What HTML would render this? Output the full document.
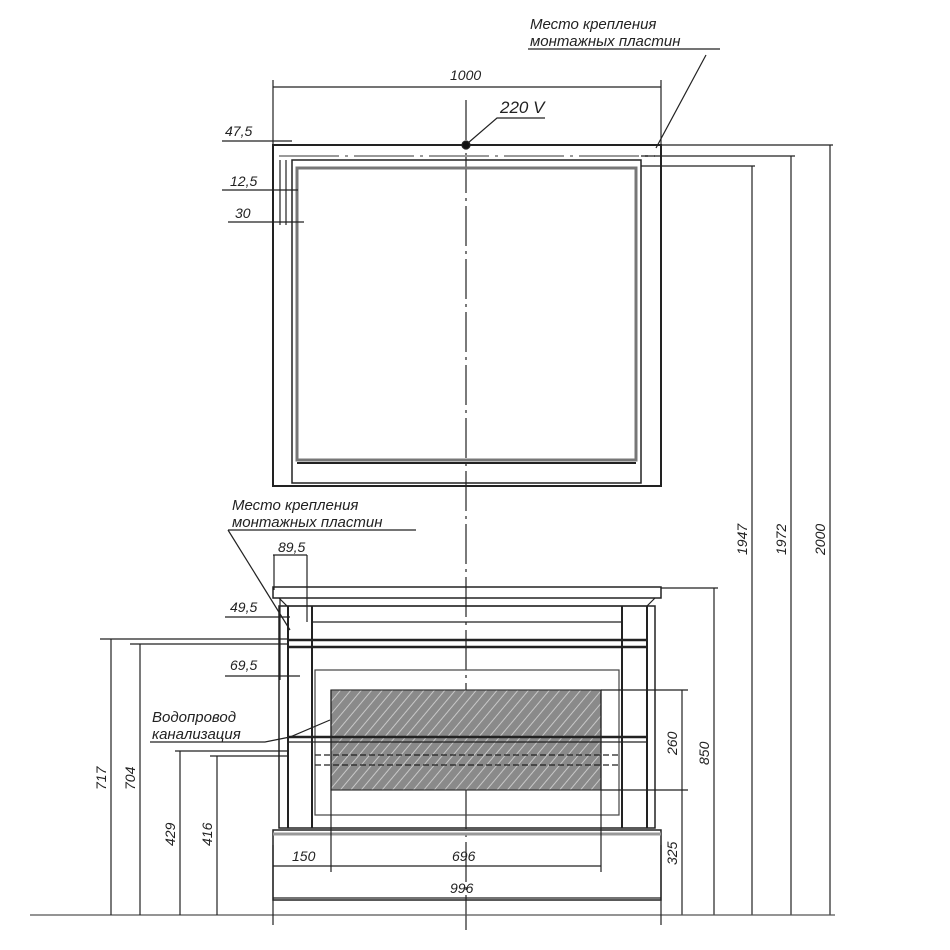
<!DOCTYPE html>
<html><head><meta charset="utf-8"><style>
html,body{margin:0;padding:0;background:#fff;}
svg{display:block;}
text{font-family:"Liberation Sans",sans-serif;font-style:italic;fill:#222;}
</style></head><body>
<svg width="950" height="950" viewBox="0 0 950 950" xmlns="http://www.w3.org/2000/svg">
<defs>
<pattern id="h" width="8" height="8" patternUnits="userSpaceOnUse" patternTransform="rotate(40)">
<rect width="8" height="8" fill="#8a8a8a"/><line x1="0" y1="0" x2="0" y2="8" stroke="#c8c8c8" stroke-width="2"/>
</pattern>
</defs>
<g stroke="#222" fill="none" stroke-width="1.2">
<line x1="466" y1="100" x2="466" y2="930" stroke-dasharray="40,5,3,5"/>
<rect x="273" y="145" width="388" height="341" stroke-width="2"/>
<rect x="292" y="160" width="349" height="323" stroke-width="1.5"/>
<rect x="297" y="168" width="339" height="292" stroke="#777" stroke-width="3"/>
<line x1="297" y1="463" x2="636" y2="463" stroke-width="2"/>
<line x1="279" y1="156" x2="655" y2="156" stroke="#999" stroke-width="2" stroke-dasharray="60,6,3,6"/>
<line x1="273" y1="87" x2="661" y2="87"/>
<line x1="273" y1="80" x2="273" y2="145"/>
<line x1="661" y1="80" x2="661" y2="145"/>
<circle cx="466" cy="145" r="4" fill="#111"/>
<polyline points="468,143 497,118 545,118"/>
<line x1="222" y1="141" x2="292" y2="141"/>
<line x1="222" y1="190" x2="298" y2="190"/>
<line x1="228" y1="222" x2="304" y2="222"/>
<line x1="280" y1="160" x2="280" y2="225"/>
<line x1="286" y1="160" x2="286" y2="225"/>
<polyline points="720,49 528,49"/>
<line x1="656" y1="148" x2="706" y2="55"/>
<line x1="661" y1="145" x2="833" y2="145"/>
<line x1="641" y1="156" x2="795" y2="156"/>
<line x1="641" y1="166" x2="755" y2="166"/>
<line x1="830" y1="145" x2="830" y2="915"/>
<line x1="791" y1="156" x2="791" y2="915"/>
<line x1="752" y1="166" x2="752" y2="915"/>
<line x1="714" y1="588" x2="714" y2="915"/>
<line x1="682" y1="690" x2="682" y2="915"/>
<line x1="30" y1="915" x2="835" y2="915" stroke="#555"/>
<rect x="273" y="587" width="388" height="11" stroke-width="1.5"/>
<path d="M279 598 L287 606 L647 606 L655 598" />
<rect x="279" y="606" width="376" height="222" stroke-width="1.5"/>
<line x1="288" y1="606" x2="288" y2="828" stroke-width="2"/>
<line x1="647" y1="606" x2="647" y2="828" stroke-width="2"/>
<line x1="312" y1="606" x2="312" y2="828" stroke-width="2"/>
<line x1="622" y1="606" x2="622" y2="828" stroke-width="2"/>
<line x1="312" y1="622" x2="622" y2="622"/>
<line x1="288" y1="640" x2="647" y2="640" stroke-width="2.5"/>
<line x1="288" y1="647" x2="647" y2="647" stroke-width="2.5"/>
<rect x="315" y="670" width="304" height="145" stroke="#444"/>
<rect x="331" y="690" width="270" height="100" fill="url(#h)" stroke="#333"/>
<line x1="288" y1="737" x2="647" y2="737" stroke-width="2.5"/>
<line x1="288" y1="742" x2="647" y2="742"/>
<line x1="315" y1="755" x2="619" y2="755" stroke-dasharray="6,3"/>
<line x1="315" y1="765" x2="619" y2="765" stroke-dasharray="6,3"/>
<rect x="273" y="830" width="388" height="70" stroke-width="1.5"/>
<line x1="273" y1="834" x2="661" y2="834" stroke="#999" stroke-width="3"/>
<line x1="273" y1="866" x2="601" y2="866"/>
<line x1="331" y1="690" x2="331" y2="872"/>
<line x1="601" y1="690" x2="601" y2="872"/>
<line x1="273" y1="898" x2="661" y2="898"/>
<line x1="273" y1="845" x2="273" y2="925"/>
<line x1="661" y1="845" x2="661" y2="925"/>
<line x1="601" y1="690" x2="688" y2="690"/>
<line x1="601" y1="790" x2="688" y2="790"/>
<line x1="661" y1="588" x2="718" y2="588"/>
<line x1="273" y1="555" x2="307" y2="555"/>
<line x1="274" y1="555" x2="274" y2="590"/>
<line x1="307" y1="555" x2="307" y2="622"/>
<line x1="225" y1="617" x2="290" y2="617"/>
<line x1="225" y1="676" x2="300" y2="676"/>
<line x1="280" y1="598" x2="280" y2="680"/>
<line x1="228" y1="530" x2="416" y2="530"/>
<line x1="228" y1="530" x2="290" y2="630"/>
<line x1="100" y1="639" x2="288" y2="639"/>
<line x1="130" y1="644" x2="288" y2="644"/>
<line x1="111" y1="639" x2="111" y2="915"/>
<line x1="140" y1="644" x2="140" y2="915"/>
<line x1="175" y1="751" x2="288" y2="751"/>
<line x1="210" y1="756" x2="288" y2="756"/>
<line x1="180" y1="751" x2="180" y2="915"/>
<line x1="217" y1="756" x2="217" y2="915"/>
<polyline points="150,742 265,742 290,737 330,720"/>
</g>
<g font-size="14">
<text x="450" y="80">1000</text>
<text x="500" y="113" font-size="17">220 V</text>
<text x="225" y="136">47,5</text>
<text x="230" y="186">12,5</text>
<text x="235" y="218">30</text>
<text x="530" y="29" font-size="15">Место крепления</text>
<text x="530" y="46" font-size="15">монтажных пластин</text>
<text x="232" y="510" font-size="15">Место крепления</text>
<text x="232" y="527" font-size="15">монтажных пластин</text>
<text x="278" y="552">89,5</text>
<text x="230" y="612">49,5</text>
<text x="230" y="670">69,5</text>
<text x="152" y="722" font-size="15">Водопровод</text>
<text x="152" y="739" font-size="15">канализация</text>
<text x="292" y="861">150</text>
<text x="452" y="861">696</text>
<text x="450" y="893">996</text>
<text transform="translate(747,555) rotate(-90)">1947</text>
<text transform="translate(786,555) rotate(-90)">1972</text>
<text transform="translate(825,555) rotate(-90)">2000</text>
<text transform="translate(709,765) rotate(-90)">850</text>
<text transform="translate(677,755) rotate(-90)">260</text>
<text transform="translate(677,865) rotate(-90)">325</text>
<text transform="translate(106,790) rotate(-90)">717</text>
<text transform="translate(135,790) rotate(-90)">704</text>
<text transform="translate(175,846) rotate(-90)">429</text>
<text transform="translate(212,846) rotate(-90)">416</text>
</g>
</svg>
</body></html>
